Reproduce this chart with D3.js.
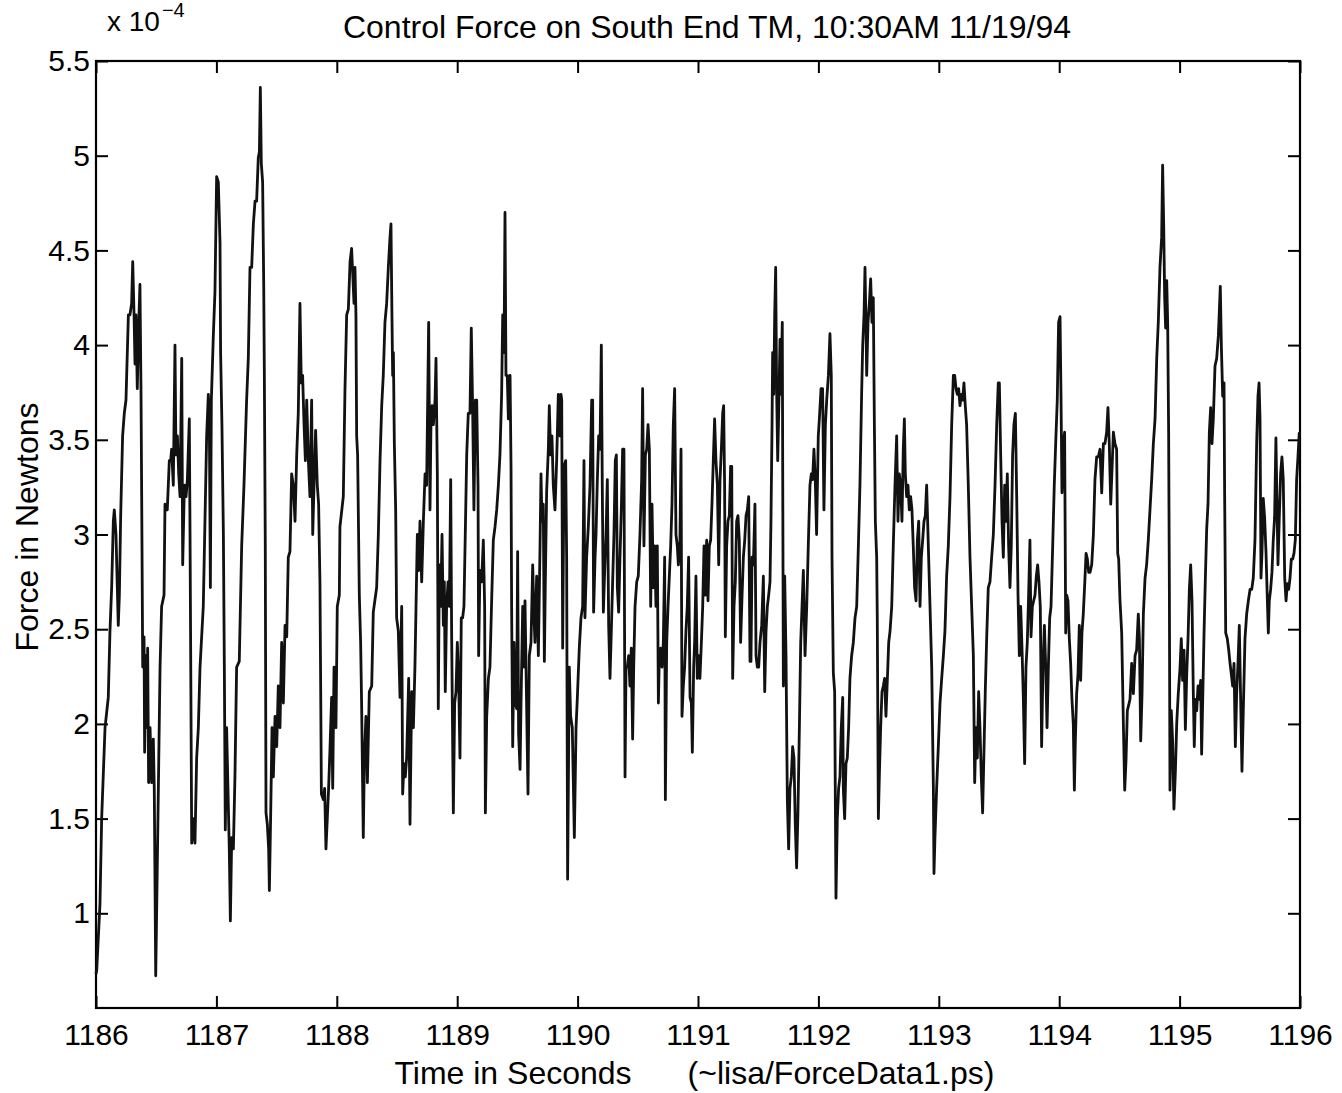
<!DOCTYPE html>
<html><head><meta charset="utf-8">
<script src="https://cdn.jsdelivr.net/npm/d3@7"></script>
<style>
html,body{margin:0;padding:0;background:#fff;}
svg{display:block;}
text{font-family:"Liberation Sans",Arial,Helvetica,sans-serif;fill:#000;}
</style></head><body>
<svg id="chart" width="1342" height="1093"></svg>
<script>
const chartTitle = "Control Force on South End TM, 10:30AM 11/19/94";
const xLabel = "Time in Seconds";
const xNote = "(~lisa/ForceData1.ps)";
const yLabel = "Force in Newtons";
const yScaleBase = "x 10";
const yScaleExp = "\u22124";
const timeStart = 1186;
const xTicks = [1186,1187,1188,1189,1190,1191,1192,1193,1194,1195,1196];
const yTicks = [1,1.5,2,2.5,3,3.5,4,4.5,5,5.5];
const xDomain = [1186,1196];
const yDomain = [0.5,5.5];

// seconds after 1186 s
const timeOffsets = [
0,0.006,0.033,0.047,0.075,0.102,0.116,0.130,0.144,0.152,
0.166,0.177,0.185,0.194,0.205,0.221,0.235,0.249,0.269,0.282,
0.296,0.305,0.316,0.324,0.332,0.343,0.354,0.365,0.374,0.382,
0.388,0.399,0.404,0.413,0.421,0.429,0.437,0.449,0.462,0.476,
0.484,0.496,0.504,0.518,0.532,0.545,0.565,0.573,0.592,0.609,
0.620,0.628,0.642,0.656,0.664,0.676,0.687,0.698,0.712,0.720,
0.734,0.748,0.759,0.775,0.781,0.795,0.808,0.822,0.836,0.850,
0.864,0.891,0.905,0.919,0.933,0.941,0.950,0.958,0.975,0.988,
1.002,1.016,1.030,1.035,1.046,1.058,1.066,1.074,1.085,1.096,
1.107,1.116,1.127,1.141,1.154,1.168,1.190,1.210,1.229,1.251,
1.265,1.279,1.293,1.307,1.321,1.334,1.348,1.357,1.365,1.373,
1.384,1.393,1.398,1.406,1.412,1.423,1.434,1.440,1.451,1.462,
1.473,1.487,1.501,1.514,1.528,1.542,1.556,1.570,1.584,1.597,
1.611,1.625,1.639,1.653,1.667,1.680,1.694,1.705,1.716,1.728,
1.739,1.750,1.764,1.777,1.791,1.800,1.811,1.824,1.838,1.849,
1.860,1.866,1.872,1.888,1.899,1.910,1.921,1.932,1.944,1.957,
1.966,1.977,1.993,2.004,2.021,
2.026,2.054,2.068,2.082,2.096,2.110,2.123,2.132,2.143,2.151,
2.159,2.165,2.173,2.187,2.198,2.206,2.220,2.229,2.242,2.254,
2.270,2.290,2.303,2.331,2.345,2.359,2.373,2.386,2.400,2.414,
2.428,2.442,2.450,2.458,2.464,2.470,2.478,2.489,2.497,2.511,
2.525,2.539,2.547,2.558,2.569,2.580,2.597,2.608,2.622,2.636,
2.649,2.658,2.669,2.680,2.691,2.705,2.719,2.733,2.746,2.755,
2.763,2.774,2.782,2.791,2.802,2.816,2.824,2.835,2.843,2.852,
2.863,2.874,2.885,2.893,2.901,2.912,2.924,2.935,2.946,2.954,
2.968,2.979,2.990,3.001,3.012,3.023,3.034,3.045,3.056,3.067,
3.079,3.092,3.106,3.117,3.128,3.139,3.151,3.162,3.173,3.178,
3.189,3.203,3.217,3.228,3.234,3.245,3.259,3.272,3.286,3.300,
3.314,3.328,3.342,3.355,3.369,3.378,3.389,3.397,3.405,3.416,
3.425,3.439,3.447,3.452,3.461,3.472,3.483,3.494,3.502,3.510,
3.522,3.530,3.544,3.555,3.563,3.577,3.588,3.599,3.613,3.627,
3.638,3.646,3.660,3.674,3.688,3.696,3.704,3.715,3.724,3.732,
3.743,3.757,3.765,3.776,3.787,3.798,3.812,3.826,3.840,3.854,
3.862,3.868,3.876,3.887,3.901,3.909,3.917,3.931,3.942,3.956,
3.973,3.987,3.998,4.014,
4.028,4.042,4.053,4.061,4.075,4.089,4.103,4.117,4.125,4.133,
4.145,4.153,4.164,4.175,4.186,4.197,4.205,4.214,4.225,4.236,
4.247,4.258,4.269,4.280,4.291,4.302,4.313,4.322,4.330,4.341,
4.352,4.363,4.374,4.385,4.394,4.402,4.413,4.424,4.435,4.446,
4.457,4.466,4.477,4.491,4.504,4.518,4.532,4.540,4.551,4.563,
4.574,4.585,4.596,4.607,4.618,4.629,4.640,4.651,4.662,4.671,
4.679,4.690,4.701,4.712,4.723,4.729,4.740,4.751,4.762,4.773,
4.784,4.795,4.806,4.817,4.828,4.837,4.850,4.859,4.867,4.878,
4.889,4.900,4.911,4.922,4.934,4.945,4.953,4.964,4.972,4.983,
4.994,5.005,5.016,5.028,5.039,5.050,5.061,5.072,5.083,5.094,
5.105,5.116,5.127,5.138,5.149,5.161,5.172,5.183,5.194,5.205,
5.213,5.221,5.227,5.238,5.249,5.260,5.271,5.280,5.288,5.299,
5.310,5.321,5.332,5.343,5.354,5.366,5.377,5.388,5.399,5.410,
5.421,5.432,5.440,5.449,5.460,5.473,5.482,5.493,5.504,5.515,
5.529,5.543,5.554,5.565,5.576,5.587,5.598,5.606,5.615,5.620,
5.629,5.637,5.645,5.653,5.662,5.670,5.681,5.689,5.700,5.709,
5.720,5.731,5.742,5.753,5.764,5.775,5.786,5.797,5.808,5.819,
5.830,5.842,5.853,5.864,5.875,5.889,5.903,5.916,5.930,5.941,
5.952,5.963,5.974,5.985,5.999,
6.008,6.022,6.035,6.046,6.058,6.069,6.083,6.096,6.107,6.113,
6.124,6.135,6.146,6.157,6.168,6.179,6.190,6.202,6.207,6.218,
6.229,6.240,6.251,6.262,6.276,6.290,6.304,6.318,6.332,6.345,
6.359,6.368,6.379,6.387,6.395,6.401,6.412,6.423,6.434,6.445,
6.456,6.465,6.473,6.484,6.489,6.498,6.506,6.517,6.528,6.539,
6.550,6.561,6.573,6.584,6.595,6.609,6.622,6.636,6.650,6.661,
6.672,6.683,6.694,6.705,6.714,6.722,6.733,6.744,6.755,6.766,
6.777,6.788,6.799,6.811,6.822,6.833,6.844,6.855,6.866,6.877,
6.888,6.899,6.913,6.927,6.941,6.955,6.960,6.968,6.982,6.996,
7.010,7.024,7.038,7.051,7.065,7.079,7.093,7.107,7.121,7.132,
7.143,7.154,7.165,7.176,7.187,7.198,7.209,7.220,7.231,7.245,
7.259,7.273,7.287,7.298,7.309,7.320,7.331,7.342,7.353,7.364,
7.375,7.386,7.398,7.411,7.425,7.439,7.453,7.467,7.481,7.494,
7.503,7.514,7.525,7.536,7.547,7.558,7.569,7.580,7.591,7.602,
7.613,7.624,7.636,7.647,7.658,7.669,7.680,7.691,7.702,7.713,
7.724,7.735,7.746,7.757,7.766,7.777,7.788,7.799,7.810,7.821,
7.832,7.843,7.854,7.865,7.877,7.888,7.899,7.910,7.921,7.932,
7.946,7.959,7.973,7.984,7.995,
8.007,8.015,8.023,8.034,8.045,8.054,8.062,8.073,8.084,8.095,
8.106,8.117,8.126,8.134,8.145,8.156,8.167,8.178,8.189,8.200,
8.212,8.223,8.234,8.245,8.256,8.270,8.284,8.297,8.311,8.325,
8.339,8.353,8.367,8.380,8.394,8.405,8.416,8.428,8.439,8.450,
8.463,8.477,8.486,8.494,8.505,8.519,8.533,8.544,8.555,8.566,
8.577,8.588,8.602,8.616,8.630,8.643,8.657,8.666,8.677,8.688,
8.699,8.713,8.726,8.740,8.754,8.768,8.782,8.796,8.810,8.823,
8.837,8.851,8.859,8.868,8.876,8.884,8.893,8.901,8.909,8.915,
8.920,8.931,8.942,8.953,8.965,8.976,8.989,9.003,9.014,9.025,
9.037,9.048,9.059,9.070,9.081,9.092,9.103,9.114,9.122,9.131,
9.142,9.153,9.164,9.175,9.183,9.192,9.203,9.214,9.225,9.236,
9.247,9.258,9.269,9.280,9.294,9.308,9.322,9.330,9.338,9.347,
9.358,9.369,9.374,9.383,9.396,9.408,9.419,9.430,9.441,9.452,
9.463,9.474,9.485,9.496,9.507,9.518,9.529,9.543,9.557,9.571,
9.585,9.599,9.612,9.626,9.640,9.651,9.660,9.668,9.676,9.684,
9.695,9.706,9.718,9.729,9.737,9.745,9.756,9.767,9.778,9.789,
9.800,9.809,9.817,9.828,9.839,9.850,9.861,9.873,9.884,9.895,
9.906,9.917,9.928,9.939,9.950,9.961,9.972,9.983,9.994
];

// force, in units of 1e-4 N
const forceValues = [
0.68,0.70,1.05,1.50,1.98,2.14,2.49,2.72,3.07,3.13,
3.00,2.72,2.52,2.68,3.10,3.52,3.64,3.71,4.16,4.16,
4.22,4.44,4.16,3.90,4.16,3.77,4.09,4.32,3.74,2.94,
2.30,2.46,1.85,2.36,1.98,2.40,1.69,1.98,1.69,1.92,
1.66,0.67,1.02,1.66,2.30,2.62,2.68,3.16,3.13,3.39,
3.39,3.45,3.26,4.00,3.42,3.52,3.32,3.20,3.93,2.84,
3.26,3.20,3.29,3.61,3.00,1.37,1.50,1.37,1.82,1.98,
2.30,2.62,3.07,3.52,3.74,3.64,2.72,3.71,4.06,4.28,
4.89,4.86,4.54,3.96,3.58,3.00,2.30,1.44,1.98,1.66,
1.34,0.96,1.40,1.34,1.72,2.30,2.33,2.94,3.26,3.71,
3.93,4.41,4.41,4.64,4.76,4.76,4.99,5.02,5.36,4.96,
4.86,4.32,3.87,2.94,1.53,1.47,1.34,1.12,1.53,1.98,
1.72,2.04,1.88,2.20,1.98,2.43,2.11,2.52,2.46,2.88,
2.91,3.32,3.26,3.07,3.42,3.64,4.22,3.80,3.84,3.58,
3.39,3.71,3.39,3.20,3.71,3.00,3.26,3.55,3.26,3.16,
2.75,2.20,1.63,1.60,1.66,1.34,1.50,1.66,1.88,2.14,
1.66,2.30,1.98,2.62,2.68,
3.04,3.20,3.77,4.16,4.19,4.44,4.51,4.38,4.22,4.41,
4.16,3.52,3.42,2.68,2.43,2.11,1.40,1.82,2.04,1.69,
2.17,2.20,2.59,2.72,3.00,3.39,3.68,3.84,4.12,4.22,
4.41,4.57,4.64,4.16,3.84,3.96,3.48,3.13,2.56,2.49,
2.14,2.62,1.63,1.79,1.72,1.82,2.24,1.47,2.17,1.98,
2.30,2.62,3.00,2.81,3.07,2.75,3.07,3.32,3.26,3.71,
4.12,3.13,3.58,3.68,3.58,3.71,3.93,3.32,2.08,2.84,
2.62,3.00,2.52,2.75,2.17,2.62,2.75,2.62,3.29,2.46,
1.53,2.11,2.17,2.43,2.24,1.82,2.56,2.56,2.62,3.00,
3.42,3.64,3.64,4.09,3.68,3.13,3.71,3.71,3.26,2.36,
2.81,2.75,2.97,2.62,1.53,2.04,2.24,2.30,2.65,2.97,
3.04,3.13,3.26,3.42,3.74,4.16,3.96,4.70,3.84,3.84,
3.61,3.84,3.36,2.62,1.88,2.43,2.11,2.08,2.91,1.95,
1.76,2.11,2.62,2.30,2.65,2.08,1.63,2.36,2.43,2.84,
2.56,2.43,2.78,2.36,2.94,3.32,3.07,3.16,2.33,2.75,
3.23,3.45,3.68,3.42,3.52,3.26,3.13,3.39,3.74,3.52,
3.74,3.71,2.40,3.36,3.39,2.88,1.18,2.30,2.04,1.98,
1.40,1.98,2.14,2.40,
2.56,2.62,3.39,2.56,2.88,3.04,3.26,3.71,3.71,2.59,
2.88,3.00,3.29,3.52,3.45,4.00,3.26,2.59,2.81,3.00,
3.29,2.52,2.24,2.49,2.75,3.00,3.39,3.42,2.72,2.59,
2.88,3.13,3.45,3.45,1.72,2.30,2.30,2.36,2.20,2.40,
1.92,2.30,2.62,2.75,2.78,3.00,3.29,3.77,2.94,3.42,
3.45,3.58,3.45,2.62,3.16,2.72,2.94,2.62,2.94,2.11,
2.36,2.40,2.30,2.43,2.88,1.60,2.43,2.62,2.78,2.94,
3.16,3.58,3.77,3.00,2.94,2.84,2.97,3.45,2.04,2.20,
2.30,2.49,2.62,2.88,2.14,2.11,1.85,2.30,2.43,2.78,
2.24,2.36,2.24,2.43,2.62,2.94,2.68,2.97,2.65,2.94,
2.97,3.16,3.39,3.61,3.39,3.26,2.84,3.29,3.45,3.64,
3.68,3.26,2.46,2.94,3.07,3.10,3.36,3.36,2.24,2.62,
2.75,3.07,3.10,2.97,2.43,2.68,2.88,2.97,3.10,3.13,
3.20,2.33,2.33,2.88,2.84,3.16,2.36,2.30,2.30,2.43,
2.52,2.78,2.17,2.49,2.62,2.68,2.75,3.07,3.58,3.96,
3.74,4.16,4.41,3.77,3.39,3.64,4.03,3.74,4.12,2.20,
2.78,2.36,1.60,1.34,1.66,1.72,1.88,1.82,1.47,1.24,
1.53,1.98,2.43,2.62,2.81,2.36,2.62,2.94,3.26,3.32,
3.29,3.45,3.29,3.00,3.52,
3.61,3.77,3.77,3.13,3.58,3.71,3.84,4.06,3.84,2.88,
2.27,2.17,1.08,1.50,1.66,1.72,1.98,2.14,1.66,1.50,
1.79,1.82,1.98,2.24,2.36,2.43,2.56,2.62,2.94,3.26,
3.74,4.00,4.16,4.41,4.12,3.84,4.12,4.22,4.35,4.12,
4.25,3.58,3.07,2.88,2.56,1.50,1.72,1.98,2.17,2.20,
2.24,2.04,2.24,2.43,2.49,2.62,2.94,3.26,3.52,3.07,
3.32,3.26,3.07,3.45,3.61,3.32,3.20,3.26,3.13,3.20,
3.13,2.94,2.72,2.65,2.97,3.07,2.62,2.88,2.97,3.07,
3.10,3.26,2.94,2.62,2.30,1.66,1.21,1.40,1.66,1.88,
2.11,2.24,2.36,2.49,2.78,2.94,3.20,3.58,3.84,3.84,
3.77,3.74,3.77,3.68,3.74,3.71,3.80,3.68,3.58,3.26,
2.88,2.62,2.36,1.69,1.98,1.82,2.17,1.98,1.72,1.53,
1.85,2.17,2.46,2.72,2.75,2.88,3.00,3.26,3.58,3.80,
3.80,3.42,3.07,2.88,3.26,3.07,3.32,2.94,2.72,2.94,
3.42,3.58,3.64,3.20,2.68,2.36,2.62,2.40,2.14,1.79,
2.30,2.43,2.68,2.97,2.46,2.62,2.65,2.68,2.78,2.84,
2.75,2.62,1.88,2.30,2.52,2.30,1.98,2.30,2.56,2.62,
2.94,3.26,3.52,3.71,4.12,
4.15,3.73,3.22,3.48,3.54,2.48,2.68,2.65,2.45,2.32,
2.13,2.00,1.65,1.91,2.16,2.26,2.52,2.23,2.48,2.58,
2.74,2.90,2.87,2.80,2.80,2.84,3.00,3.29,3.41,3.41,
3.45,3.22,3.48,3.48,3.54,3.67,3.48,3.16,3.35,3.54,
3.48,3.45,2.90,2.87,2.65,2.48,2.00,1.65,1.81,2.07,
2.10,2.13,2.32,2.16,2.36,2.39,2.58,2.45,1.91,2.16,
2.58,2.77,2.84,2.97,3.13,3.29,3.48,3.61,3.93,4.12,
4.41,4.57,4.95,4.63,4.25,4.09,4.34,4.12,3.54,2.71,
1.65,2.07,1.91,1.55,1.75,2.00,2.16,2.29,2.45,2.23,
2.39,1.97,2.26,2.45,2.71,2.84,2.65,2.16,1.88,2.13,
2.07,2.20,2.13,2.23,1.84,2.13,2.48,2.77,3.03,3.16,
3.54,3.67,3.48,3.61,3.89,3.93,4.05,4.18,4.31,3.99,
3.73,3.80,3.22,2.48,2.45,2.39,2.32,2.26,2.20,2.32,
1.88,2.16,2.32,2.52,2.13,1.75,2.07,2.45,2.58,2.65,
2.71,2.71,2.77,2.97,3.48,3.73,3.80,3.61,2.77,2.90,
3.19,3.09,2.90,2.65,2.48,2.65,2.71,2.80,2.97,3.09,
3.51,3.16,2.84,3.09,3.32,3.41,3.29,2.77,2.65,2.74,
2.71,2.77,2.87,2.87,2.90,2.97,3.29,3.41,3.54
];

const W = 1342, H = 1093;
const plot = {left: 96, right: 1300, top: 61, bottom: 1008};
const svg = d3.select("#chart");

const x = d3.scaleLinear().domain(xDomain).range([plot.left, plot.right]);
const y = d3.scaleLinear().domain(yDomain).range([plot.bottom, plot.top]);

const n = Math.min(timeOffsets.length, forceValues.length);
const series = d3.range(n).map(i => ({t: timeStart + timeOffsets[i], v: forceValues[i]}));

const tickLen = 12;
const fmtY = d => String(d);

function styleAxis(g) {
  g.select(".domain").remove();
  g.selectAll(".tick line").attr("stroke", "#000").attr("stroke-width", 2);
  g.selectAll(".tick text").attr("font-size", 30).attr("fill", "#000")
   .style("font-family", '"Liberation Sans", Arial, Helvetica, sans-serif');
}

svg.append("g").attr("transform", `translate(0,${plot.bottom})`)
  .call(d3.axisBottom(x).tickValues(xTicks).tickFormat(d3.format("d")).tickSize(-tickLen).tickPadding(16))
  .call(styleAxis);
svg.append("g").attr("transform", `translate(0,${plot.top})`)
  .call(d3.axisTop(x).tickValues(xTicks).tickFormat("").tickSize(-tickLen))
  .call(styleAxis);
svg.append("g").attr("transform", `translate(${plot.left},0)`)
  .call(d3.axisLeft(y).tickValues(yTicks).tickFormat(fmtY).tickSize(-tickLen).tickPadding(6))
  .call(styleAxis);
svg.append("g").attr("transform", `translate(${plot.right},0)`)
  .call(d3.axisRight(y).tickValues(yTicks).tickFormat("").tickSize(-tickLen))
  .call(styleAxis);

svg.append("rect")
  .attr("x", plot.left).attr("y", plot.top)
  .attr("width", plot.right - plot.left).attr("height", plot.bottom - plot.top)
  .attr("fill", "none").attr("stroke", "#000").attr("stroke-width", 2.2);

svg.append("path")
  .datum(series)
  .attr("fill", "none")
  .attr("stroke", "#111")
  .attr("stroke-width", 2.8)
  .attr("stroke-linejoin", "round")
  .attr("d", d3.line().x(d => x(d.t)).y(d => y(d.v)));

svg.append("text").attr("x", 707).attr("y", 38).attr("text-anchor", "middle")
  .attr("font-size", 32).text(chartTitle);

const expo = svg.append("text").attr("x", 107).attr("y", 31).attr("font-size", 28);
expo.append("tspan").text(yScaleBase);
expo.append("tspan").attr("dx", 2).attr("dy", -14).attr("font-size", 20).text(yScaleExp);

svg.append("text").attr("x", 513).attr("y", 1084).attr("text-anchor", "middle")
  .attr("font-size", 32).text(xLabel);
svg.append("text").attr("x", 841).attr("y", 1084).attr("text-anchor", "middle")
  .attr("font-size", 32).text(xNote);

svg.append("text").attr("transform", "translate(38,527) rotate(-90)")
  .attr("text-anchor", "middle").attr("font-size", 32).text(yLabel);
</script>
</body></html>
